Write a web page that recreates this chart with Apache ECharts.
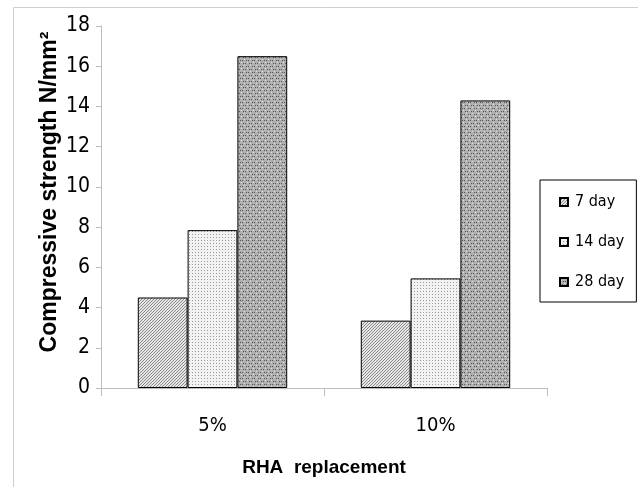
<!DOCTYPE html>
<html><head><meta charset="utf-8">
<script src="https://cdn.jsdelivr.net/npm/echarts@6/dist/echarts.min.js"></script>
<style>html,body{margin:0;padding:0;background:#fff}#c{width:638px;height:487px}</style>
</head><body><div id="c"></div>
<script>
const categories = ['5%', '10%'];
const seriesNames = ['7 day', '14 day', '28 day'];
const day7 = [4.5, 3.35];
const day14 = [7.85, 5.45];
const day28 = [16.5, 14.3];
const yTicks = [0, 2, 4, 6, 8, 10, 12, 14, 16, 18];

function pattern(kind) {
  const c = document.createElement('canvas');
  c.width = 6; c.height = 6;
  const g = c.getContext('2d');
  if (kind === 'hatch') {
    g.fillStyle = '#e6e6e6'; g.fillRect(0, 0, 6, 6);
    g.fillStyle = '#8a8a8a';
    for (let i = 0; i < 6; i++) { g.fillRect((5 - i + 6) % 6, i, 1, 1); g.fillRect((2 - i + 12) % 6, i, 1, 1); }
  } else if (kind === 'dots') {
    g.fillStyle = '#f2f2f2'; g.fillRect(0, 0, 6, 6);
    g.fillStyle = '#9a9a9a';
    g.fillRect(0, 0, 1, 1); g.fillRect(3, 3, 1, 1); g.fillRect(0, 3, 1, 1); g.fillRect(3, 0, 1, 1);
  } else {
    g.fillStyle = '#b0b0b0'; g.fillRect(0, 0, 6, 6);
    g.fillStyle = '#555';
    g.fillRect(0, 0, 1, 1); g.fillRect(3, 3, 1, 1); g.fillRect(2, 0, 1, 1); g.fillRect(5, 3, 1, 1);
    g.fillStyle = '#e0e0e0';
    g.fillRect(1, 2, 1, 1); g.fillRect(4, 5, 1, 1);
  }
  return { image: c, repeat: 'repeat' };
}
const fills = [pattern('hatch'), pattern('dots'), pattern('dark')];
const dataSets = [day7, day14, day28];
const font = '"DejaVu Sans", sans-serif';
const boldFont = '"Liberation Sans", Arial, sans-serif';

const chart = echarts.init(document.getElementById('c'));
chart.setOption({
  animation: false,
  graphic: [{ type: 'rect', shape: { x: 13.5, y: 7.5, width: 700, height: 600 }, style: { fill: 'none', stroke: '#cfcfcf', lineWidth: 1 }, silent: true }],
  grid: { left: 101, right: 91, top: 26, bottom: 99, containLabel: false },
  legend: {
    orient: 'vertical', left: 540, top: 180,
    data: seriesNames,
    icon: 'rect',
    itemWidth: 8, itemHeight: 8, itemGap: 24,
    padding: [14, 12, 12, 19],
    borderColor: '#000', borderWidth: 1,
    textStyle: { fontFamily: font, fontStyle: 'condensed', fontSize: 16, color: '#000', padding: [0, 0, 0, 2] }
  },
  xAxis: {
    type: 'category', data: categories,
    name: 'RHA  replacement', nameLocation: 'middle', nameGap: 70, nameMoveOverlap: false,
    nameTextStyle: { fontFamily: boldFont, fontWeight: 'bold', fontSize: 19, color: '#000' },
    axisLine: { lineStyle: { color: '#bdbdbd' } },
    axisTick: { show: true, length: 8, alignWithLabel: false, lineStyle: { color: '#bdbdbd' } },
    axisLabel: { fontFamily: font, fontStyle: 'condensed', fontSize: 20, color: '#000', margin: 28 }
  },
  yAxis: {
    type: 'value', min: 0, max: 18, interval: 2,
    name: 'Compressive strength N/mm²', nameLocation: 'middle', nameGap: 40, nameMoveOverlap: false,
    nameTextStyle: { fontFamily: boldFont, fontWeight: 'bold', fontSize: 23, color: '#000', padding: [0, 0, 0, 30] },
    splitLine: { show: false },
    axisLine: { show: true, lineStyle: { color: '#bdbdbd' } },
    axisTick: { show: true, length: 5, lineStyle: { color: '#bdbdbd' } },
    axisLabel: { fontFamily: font, fontStyle: 'condensed', fontSize: 21, color: '#000', margin: 11,
      formatter: v => (yTicks.indexOf(v) >= 0 ? String(v) : '') }
  },
  series: dataSets.map((d, i) => ({
    type: 'bar', name: seriesNames[i], data: d,
    barGap: '0%', barCategoryGap: '33%',
    itemStyle: { color: fills[i], borderColor: '#000', borderWidth: 1 }
  }))
});
</script></body></html>
